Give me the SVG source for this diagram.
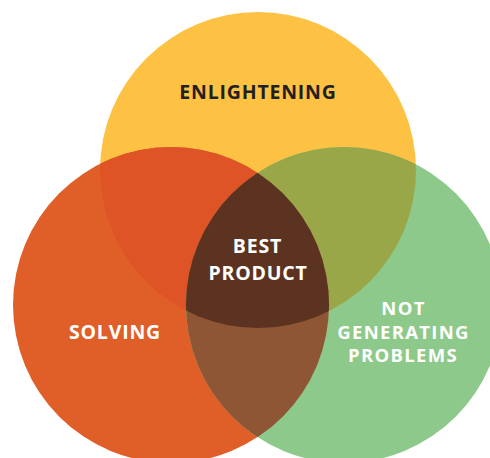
<svg xmlns="http://www.w3.org/2000/svg" width="490" height="458" viewBox="0 0 490 458">
<style>
.lbl{font-family:"Open Sans","DejaVu Sans",sans-serif;font-weight:700;font-size:19.5px;text-anchor:middle;letter-spacing:0.8px}
.s{font-size:18.5px;letter-spacing:1.3px}
.w{fill:#ffffff}
.d{fill:#231f20}
</style>
<defs>
<clipPath id="cy"><circle cx="258" cy="170" r="158"/></clipPath>
<clipPath id="co"><circle cx="171" cy="305" r="158"/></clipPath>
<clipPath id="cg"><circle cx="344" cy="305" r="158"/></clipPath>
</defs>
<rect width="490" height="458" fill="#ffffff"/>
<g id="enlightening">
<circle cx="258" cy="170" r="158" fill="#fdc243"/>
</g>
<g id="solving">
<circle cx="171" cy="305" r="158" fill="#e05f28"/>
</g>
<g id="not-generating-problems">
<circle cx="344" cy="305" r="158" fill="#8dc98a"/>
</g>
<g id="overlaps">
<circle cx="171" cy="305" r="158" fill="#df5426" clip-path="url(#cy)"/>
<circle cx="344" cy="305" r="158" fill="#9aa748" clip-path="url(#cy)"/>
<circle cx="344" cy="305" r="158" fill="#8e5634" clip-path="url(#co)"/>
<g clip-path="url(#cy)"><circle cx="344" cy="305" r="158" fill="#5b3320" clip-path="url(#co)"/></g>
</g>
<g id="labels">
<text class="lbl d" x="258" y="99">ENLIGHTENING</text>
<text class="lbl w" x="257.5" y="253">BEST</text>
<text class="lbl w" x="258" y="280">PRODUCT</text>
<text class="lbl w" x="115" y="339">SOLVING</text>
<text class="lbl s w" x="403.5" y="315">NOT</text>
<text class="lbl s w" x="403.5" y="338.5">GENERATING</text>
<text class="lbl s w" x="403" y="362">PROBLEMS</text>
</g>
</svg>
